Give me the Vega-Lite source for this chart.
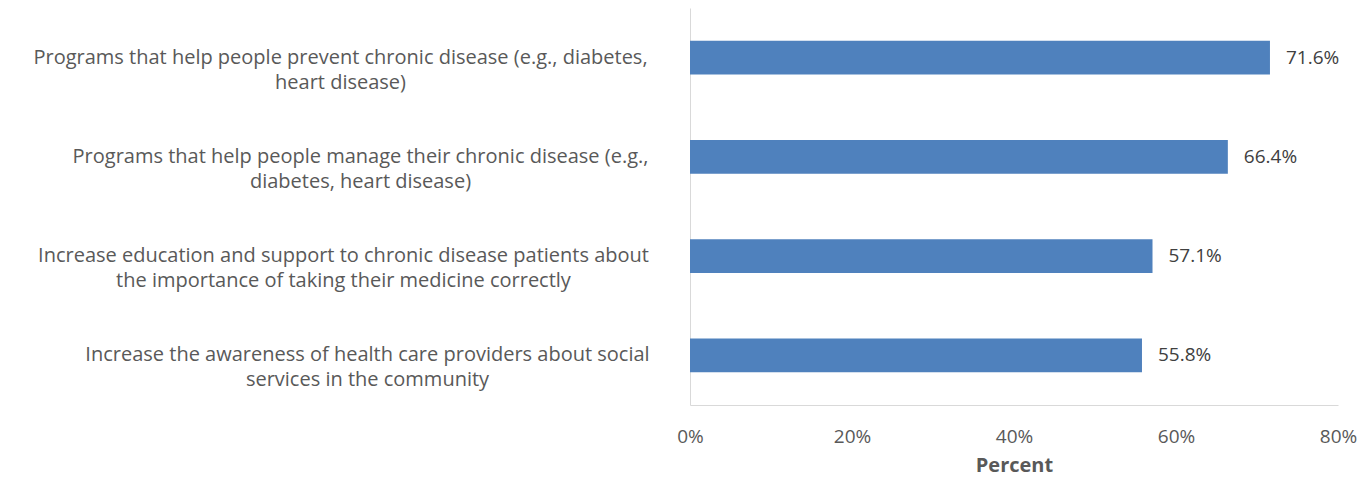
{
  "$schema": "https://vega.github.io/schema/vega-lite/v6.json",
  "width": 648,
  "height": 397,
  "autosize": "none",
  "padding": {"left": 690, "top": 8, "right": 34, "bottom": 73},
  "background": "white",
  "config": {"view": {"stroke": null}, "font": "Open Sans"},
  "data": {
    "values": [
      {"item": "Programs that help people prevent chronic disease (e.g., diabetes,|heart disease)", "percent": 0.716},
      {"item": "Programs that help people manage their chronic disease (e.g.,|diabetes, heart disease)", "percent": 0.664},
      {"item": "Increase education and support to chronic disease patients about|the importance of taking their medicine correctly", "percent": 0.571},
      {"item": "Increase the awareness of health care providers about social|services in the community", "percent": 0.558}
    ]
  },
  "encoding": {
    "y": {
      "field": "item",
      "type": "nominal",
      "sort": null,
      "scale": {"paddingInner": 0.66, "paddingOuter": 0.33},
      "axis": {
        "title": null,
        "ticks": false,
        "grid": false,
        "domainColor": "#d9d9d9",
        "domainWidth": 1,
        "labelExpr": "split(datum.label, '|')",
        "labelAlign": "center",
        "labelBaseline": "middle",
        "labelFont": "Open Sans",
        "labelFontSize": 20,
        "labelLineHeight": 25,
        "labelColor": "#595959",
        "labelLimit": 700,
        "labelPadding": {
          "condition": [
            {"test": "indexof(datum.value, 'prevent') >= 0", "value": 350},
            {"test": "indexof(datum.value, 'manage') >= 0", "value": 330},
            {"test": "indexof(datum.value, 'education') >= 0", "value": 347}
          ],
          "value": 323
        }
      }
    },
    "x": {
      "field": "percent",
      "type": "quantitative",
      "scale": {"domain": [0, 0.8]},
      "axis": {
        "title": "Percent",
        "values": [0, 0.2, 0.4, 0.6, 0.8],
        "format": ".0%",
        "ticks": false,
        "grid": false,
        "domainColor": "#d9d9d9",
        "labelFont": "Open Sans",
        "labelFontSize": 19,
        "labelColor": "#595959",
        "labelPadding": 22,
        "labelFlush": false,
        "titleFont": "Open Sans",
        "titleFontSize": 20,
        "titleFontWeight": "bold",
        "titleColor": "#595959",
        "titlePadding": 9
      }
    }
  },
  "layer": [
    {"mark": {"type": "bar", "color": "#4f81bd"}},
    {
      "mark": {"type": "text", "align": "left", "baseline": "middle", "dx": 16, "font": "Open Sans", "fontSize": 19, "color": "#404040"},
      "encoding": {"text": {"field": "percent", "type": "quantitative", "format": ".1%"}}
    }
  ]
}
